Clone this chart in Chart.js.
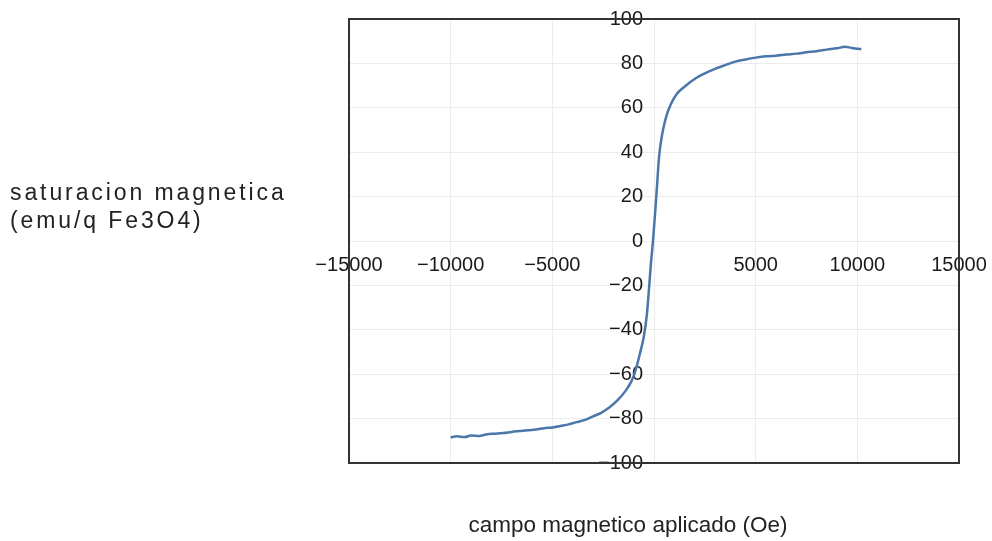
<!DOCTYPE html>
<html>
<head>
<meta charset="utf-8">
<script src="https://cdn.jsdelivr.net/npm/chart.js@4/dist/chart.umd.min.js"></script>
<style>
  html, body { margin: 0; padding: 0; background: #fff; }
  .wrap { position: relative; width: 992px; height: 541px; }
  .ytitle {
    position: absolute; left: 10px; top: 178px;
    font: 23px "Liberation Sans", Arial, sans-serif;
    line-height: 28px; letter-spacing: 2.9px; color: #222;
  }
  .xtitle {
    position: absolute; left: 628px; top: 511px;
    transform: translateX(-50%); white-space: nowrap;
    font: 22.5px "Liberation Sans", Arial, sans-serif;
    line-height: 28px; color: #222;
  }
</style>
</head>
<body>
<div class="wrap">
  <canvas id="magChart"></canvas>
  <div class="ytitle">saturacion magnetica<br>(emu/q Fe3O4)</div>
  <div class="xtitle">campo magnetico aplicado (Oe)</div>
</div>
<script>
// ── data ──
const fieldOe = [
  -10000, -9700, -9300, -9000, -8600, -8200, -7800, -7400, -7000, -6600,
  -6200, -5800, -5400, -5000, -4600, -4200, -3800, -3400, -3000, -2600,
  -2200, -1800, -1400, -1100, -900, -700, -500, -350, -250, -150,
  -50, 50, 150, 250, 400, 600, 800, 1100, 1500, 2000,
  2500, 3000, 3500, 4000, 4500, 5000, 5500, 6000, 6500, 7000,
  7500, 8000, 8500, 9000, 9400, 9700, 10000, 10200
];
const magnetization = [
  -88.5, -88, -88.3, -87.6, -87.8, -87, -86.8, -86.5, -86, -85.6,
  -85.2, -84.9, -84.3, -84, -83.3, -82.6, -81.6, -80.6, -79, -77.4,
  -75, -71.8, -67.5, -63, -58, -51, -43, -33, -22, -10,
  0, 12, 25, 38, 48, 56, 61, 66, 69.5, 73,
  75.5, 77.5, 79.2, 80.8, 81.8, 82.6, 83.2, 83.5, 84, 84.4,
  85, 85.5, 86.2, 86.8, 87.5, 87, 86.6, 86.5
];
const xTicks = [-15000, -10000, -5000, 0, 5000, 10000, 15000];
const yTicks = [-100, -80, -60, -40, -20, 0, 20, 40, 60, 80, 100];

const minus = v => String(v).replace('-', '\u2212');

// let edge labels hang over the frame instead of shrinking the plot
const noEdgePadding = s => {
  s.paddingLeft = s.paddingRight = s.paddingTop = s.paddingBottom = 0;
};

// dark frame round the plot area, drawn over the labels
const framePlugin = {
  id: 'frame',
  afterDraw(chart) {
    const a = chart.chartArea, c = chart.ctx;
    c.save();
    c.strokeStyle = '#333';
    c.lineWidth = 2;
    c.strokeRect(a.left, a.top, a.right - a.left, a.bottom - a.top);
    c.restore();
  }
};

const tickFont = { family: 'Liberation Sans', size: 20 };

new Chart(document.getElementById('magChart'), {
  type: 'scatter',
  data: {
    datasets: [{
      data: fieldOe.map((x, i) => ({ x, y: magnetization[i] })),
      showLine: true,
      borderColor: '#4a76aa',
      borderWidth: 2.5,
      pointRadius: 0,
      tension: 0.3,
      cubicInterpolationMode: 'monotone'
    }]
  },
  options: {
    responsive: true,
    maintainAspectRatio: false,
    animation: false,
    layout: { padding: { left: 349, right: 33, top: 19, bottom: 78 } },
    plugins: { legend: { display: false }, tooltip: { enabled: false } },
    scales: {
      x: {
        type: 'linear',
        position: 'center',
        min: xTicks[0], max: xTicks[xTicks.length - 1],
        afterBuildTicks: s => { s.ticks = xTicks.map(v => ({ value: v })); },
        afterFit: noEdgePadding,
        grid: { color: '#ececec', drawTicks: false },
        border: { display: false },
        ticks: {
          autoSkip: false, maxRotation: 0, padding: 12,
          color: '#1a1a1a', font: tickFont,
          callback: v => v === 0 ? '' : minus(v)
        }
      },
      y: {
        type: 'linear',
        position: 'center',
        min: yTicks[0], max: yTicks[yTicks.length - 1],
        afterBuildTicks: s => { s.ticks = yTicks.map(v => ({ value: v })); },
        afterFit: noEdgePadding,
        grid: { color: '#ececec', drawTicks: false },
        border: { display: false },
        ticks: {
          autoSkip: false, padding: 11,
          color: '#1a1a1a', font: tickFont,
          callback: v => minus(v)
        }
      }
    }
  },
  plugins: [framePlugin]
});
</script>
</body>
</html>
